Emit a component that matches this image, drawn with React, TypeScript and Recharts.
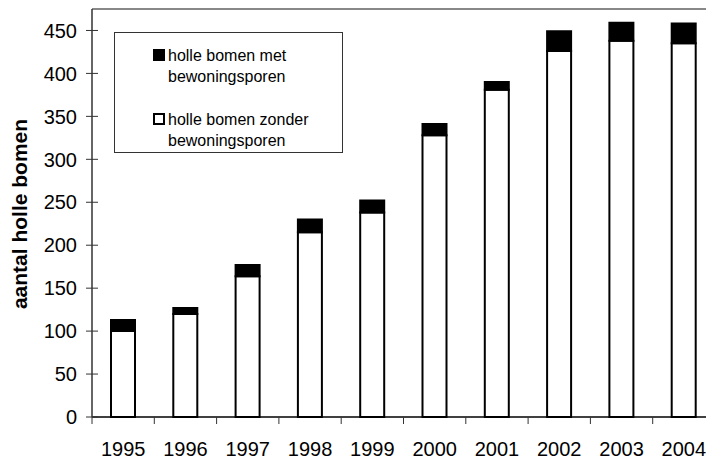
import React from "react";
import { BarChart, Bar, XAxis, YAxis, ReferenceLine, Label } from "recharts";

const years = ["1995", "1996", "1997", "1998", "1999", "2000", "2001", "2002", "2003", "2004"];
const zonderSporen = [100, 120, 164, 215, 238, 328, 381, 426, 438, 435];
const metSporen = [13, 7, 13, 15, 14, 13, 9, 23, 21, 23];
const yTicks = [0, 50, 100, 150, 200, 250, 300, 350, 400, 450];

const data = years.map((year, i) => ({
  year,
  zonder: zonderSporen[i],
  met: metSporen[i],
}));

const FONT = "'Liberation Sans', Arial, sans-serif";
const CHART_W = 720;
const CHART_H = 460;
const AXIS_W = 92;
const RIGHT = 5;
const BAND = (CHART_W - AXIS_W - RIGHT) / years.length;

const YTick = (props: any) => {
  const { x, y, payload } = props;
  return (
    <g>
      <line x1={x - 6} x2={x + 6} y1={y} y2={y} stroke="#333" strokeWidth={1} />
      <text x={x - 15} y={y} dy="0.36em" textAnchor="end" fontSize={20} fill="#000" fontFamily={FONT}>
        {payload.value}
      </text>
    </g>
  );
};

const XTick = (props: any) => {
  const { x, y, payload } = props;
  return (
    <g>
      <line x1={x - BAND / 2} x2={x - BAND / 2} y1={y} y2={y + 7} stroke="#333" strokeWidth={1} />
      <text x={x} y={y + 39} textAnchor="middle" fontSize={20} fill="#000" fontFamily={FONT}>
        {payload.value}
      </text>
    </g>
  );
};

const legendItems = [
  { fill: "#000", lines: ["holle bomen met", "bewoningsporen"] },
  { fill: "#fff", lines: ["holle bomen zonder", "bewoningsporen"] },
];

const LegendBox = () => (
  <div
    style={{
      position: "absolute",
      left: 114,
      top: 32,
      width: 229,
      height: 121,
      boxSizing: "border-box",
      border: "1px solid #333",
      background: "#fff",
      fontFamily: FONT,
      fontSize: 16,
      lineHeight: "21px",
      paddingTop: 12,
      paddingLeft: 38,
    }}
  >
    {legendItems.map((it, i) => (
      <div key={i} style={{ display: "flex", marginBottom: i === 0 ? 22 : 0 }}>
        <span
          style={{
            width: 12,
            height: 12,
            boxSizing: "border-box",
            border: "2px solid #000",
            background: it.fill,
            marginTop: 4,
            marginRight: 3,
            flexShrink: 0,
          }}
        />
        <div>
          {it.lines.map((l, j) => (
            <div key={j}>{l}</div>
          ))}
        </div>
      </div>
    ))}
  </div>
);

export default function App() {
  return (
    <div style={{ position: "absolute", left: 0, top: 0, width: 706, height: 460, overflow: "hidden", background: "#fff" }}>
      <BarChart
        width={CHART_W}
        height={CHART_H}
        data={data}
        margin={{ top: 9, right: RIGHT, left: 0, bottom: 0 }}
      >
        <XAxis
          dataKey="year"
          height={43}
          tickSize={0}
          tickMargin={0}
          tickLine={false}
          axisLine={{ stroke: "#000", strokeWidth: 1.5 }}
          tick={<XTick />}
          interval={0}
        />
        <YAxis
          width={AXIS_W}
          domain={[0, 475]}
          ticks={yTicks}
          tickSize={0}
          tickMargin={0}
          tickLine={false}
          axisLine={{ stroke: "#333", strokeWidth: 1.5 }}
          tick={<YTick />}
          interval={0}
        >
          <Label
            content={({ viewBox }: any) => {
              const cx = 19;
              const cy = viewBox.y + viewBox.height / 2 + 1;
              return (
                <text
                  x={cx}
                  y={cy}
                  transform={`rotate(-90 ${cx} ${cy})`}
                  textAnchor="middle"
                  dominantBaseline="central"
                  fontSize={21}
                  fontWeight="bold"
                  fill="#000"
                  fontFamily={FONT}
                >
                  aantal holle bomen
                </text>
              );
            }}
          />
        </YAxis>
        <ReferenceLine y={475} stroke="#888" strokeWidth={2} />
        <Bar dataKey="zonder" stackId="a" fill="#fff" stroke="#000" strokeWidth={2} barSize={24} isAnimationActive={false} />
        <Bar dataKey="met" stackId="a" fill="#000" stroke="#000" strokeWidth={2} barSize={24} isAnimationActive={false} />
      </BarChart>
      <LegendBox />
    </div>
  );
}
